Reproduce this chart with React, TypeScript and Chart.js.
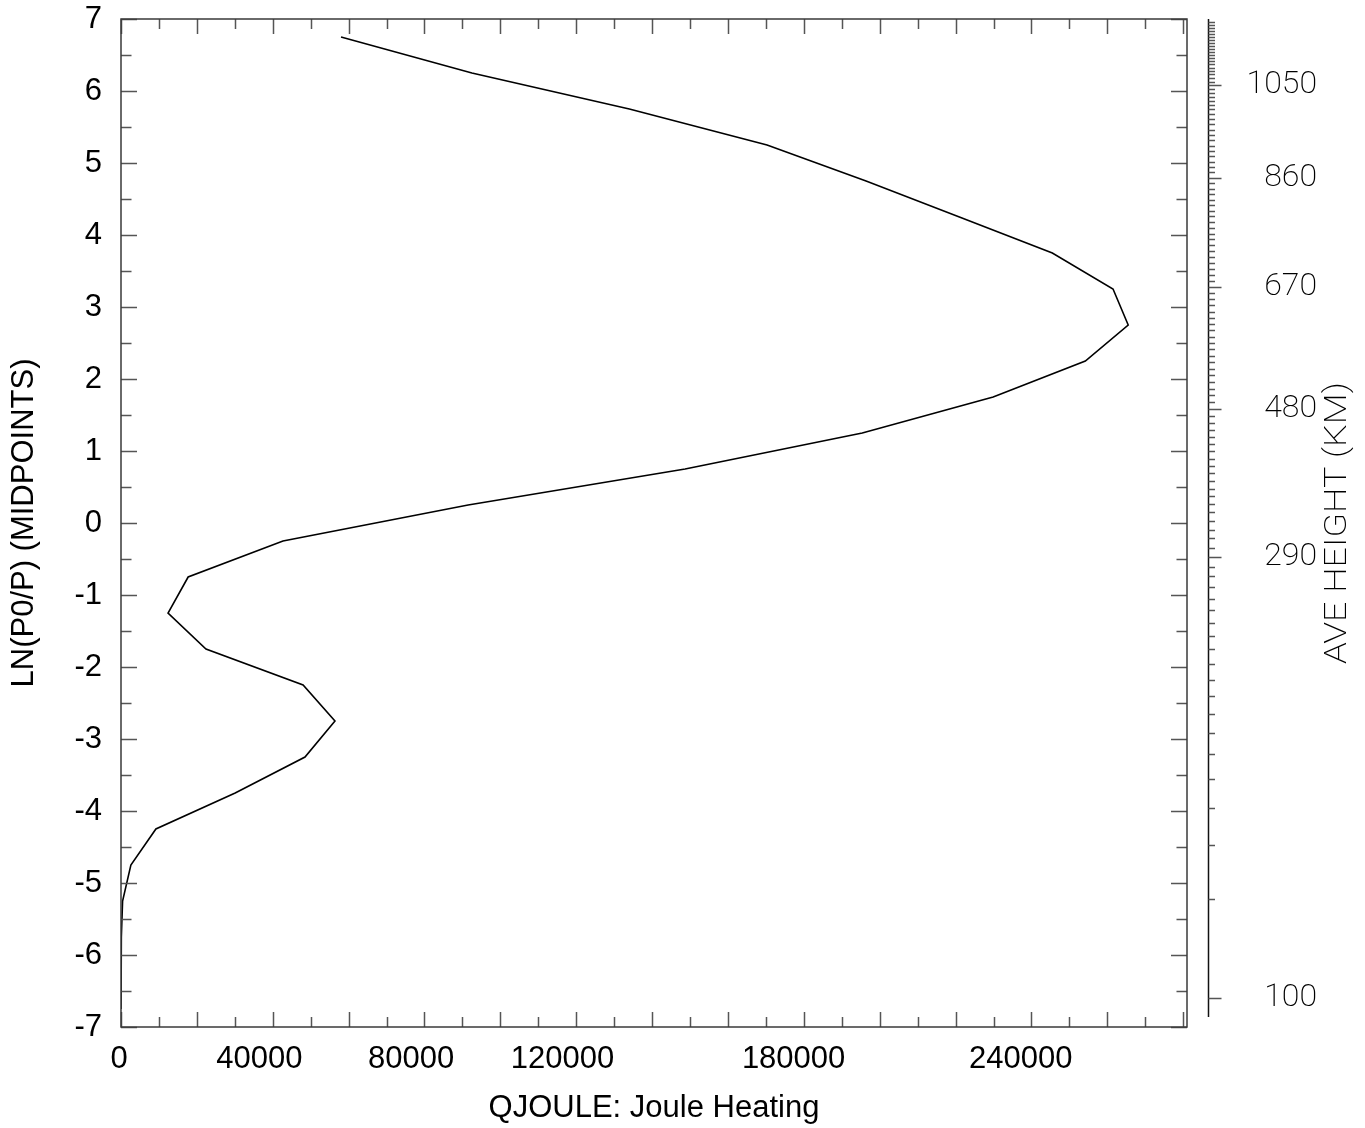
import React, { useEffect, useRef } from "react";
import { Chart, registerables } from "chart.js";

Chart.register(...registerables);

// ln(P0/P) midpoint levels (top to bottom)
const lnpLevels = [
  6.75, 6.25, 5.75, 5.25, 4.75, 4.25, 3.75, 3.25, 2.75, 2.25, 1.75, 1.25, 0.75, 0.25,
  -0.25, -0.75, -1.25, -1.75, -2.25, -2.75, -3.25, -3.75, -4.25, -4.75, -5.25, -5.75, -6.25, -6.75,
];

// QJOULE: Joule Heating at each level
const qjoule = [
  58000, 92500, 134000, 170300, 196400, 221000, 245500, 261500, 265500, 254200, 229900, 195400, 148700, 91500,
  42700, 17700, 12400, 22400, 48000, 56400, 48500, 30100, 9200, 2600, 420, 90, 20, 5,
];

// Average height (km) at each level
const aveHeightKm = [
  1200, 1082, 989, 921, 854.1, 788.9, 726.5, 666.4, 608.2, 551.7, 497.2, 445.1, 395.8, 348.2,
  307.0, 269.0, 237.5, 210.2, 186.4, 165.9, 148.7, 134.7, 123.6, 115.7, 109.7, 105.6, 102.2, 99.0,
];

const xTickLabels = ["0", "40000", "80000", "120000", "180000", "240000"];
const xTickLabelAt = [-500, 36500, 76500, 116400, 177300, 237200];
const xMin = 0;
const xMax = 281000;
const xMinorStep = 10000;

const yMin = -7;
const yMax = 7;
const yMinorStep = 0.5;

const heightLabels = [100, 290, 480, 670, 860, 1050];
const heightStepKm = 10;
const heightAxisBottomKm = 98.3;

const AXIS_COLOR = "#3a3a3a";
const TICK_COLOR = "#555555";
const SANS = '"Liberation Sans", Arial, Helvetica, sans-serif';
const THIN = 'Roboto, "DejaVu Sans", sans-serif';

// table sorted ascending by lnP
const hTable = lnpLevels
  .map((p, i) => ({ p, h: aveHeightKm[i] }))
  .sort((a, b) => a.p - b.p);

function lnpAtHeight(h: number): number {
  const t = hTable;
  let i = 0;
  if (h <= t[0].h) i = 0;
  else if (h >= t[t.length - 1].h) i = t.length - 2;
  else {
    while (i < t.length - 2 && t[i + 1].h < h) i++;
  }
  const a = t[i], b = t[i + 1];
  return a.p + ((h - a.h) / (b.h - a.h)) * (b.p - a.p);
}

function heightAtLnp(p: number): number {
  const t = hTable;
  let i = 0;
  if (p <= t[0].p) i = 0;
  else if (p >= t[t.length - 1].p) i = t.length - 2;
  else {
    while (i < t.length - 2 && t[i + 1].p < p) i++;
  }
  const a = t[i], b = t[i + 1];
  return a.h + ((p - a.p) / (b.p - a.p)) * (b.h - a.h);
}

const framePlugin = {
  id: "frame",
  afterDraw(chart: any) {
    const { ctx, chartArea: a, scales } = chart;
    const xs = scales.x;
    const ys = scales.y;
    const yh = scales.yH;
    ctx.save();
    // ticks
    ctx.strokeStyle = TICK_COLOR;
    ctx.lineWidth = 1.5;
    ctx.beginPath();
    for (let k = 0; xMin + k * xMinorStep <= xMax; k++) {
      const v = xMin + k * xMinorStep;
      const px = Math.round(xs.getPixelForValue(v)) + 0.5;
      const len = k % 2 === 0 ? 15 : 10;
      ctx.moveTo(px, a.bottom);
      ctx.lineTo(px, a.bottom - len);
      ctx.moveTo(px, a.top);
      ctx.lineTo(px, a.top + len);
    }
    for (let k = 0; yMin + k * yMinorStep <= yMax + 1e-9; k++) {
      const v = yMin + k * yMinorStep;
      const py = Math.round(ys.getPixelForValue(v)) + 0.5;
      const len = k % 2 === 0 ? 16 : 10.5;
      ctx.moveTo(a.left, py);
      ctx.lineTo(a.left + len, py);
      ctx.moveTo(a.right, py);
      ctx.lineTo(a.right - len, py);
    }
    ctx.stroke();

    // frame
    ctx.strokeStyle = AXIS_COLOR;
    ctx.lineWidth = 1.5;
    ctx.strokeRect(a.left, a.top, a.right - a.left, a.bottom - a.top);

    // height axis
    const axX = Math.round(a.right + 21) + 0.5;
    const topH = heightAtLnp(ys.max);
    ctx.strokeStyle = "#111111";
    ctx.lineWidth = 1.5;
    ctx.beginPath();
    ctx.moveTo(axX, ys.getPixelForValue(lnpAtHeight(heightAxisBottomKm)));
    ctx.lineTo(axX, ys.getPixelForValue(ys.max));
    ctx.stroke();
    ctx.strokeStyle = TICK_COLOR;
    ctx.lineWidth = 1.3;
    ctx.beginPath();
    const h0 = Math.ceil(heightAxisBottomKm / heightStepKm) * heightStepKm;
    for (let h = h0; h <= topH; h += heightStepKm) {
      const py = Math.round(ys.getPixelForValue(lnpAtHeight(h))) + 0.5;
      const len = heightLabels.includes(h) ? 13 : 6.5;
      ctx.moveTo(axX, py);
      ctx.lineTo(axX + len, py);
    }
    ctx.stroke();

    // right title
    ctx.fillStyle = "#000000";
    ctx.font = `200 31px ${THIN}`;
    const title = "AVE HEIGHT (KM)";
    const w = ctx.measureText(title).width;
    const cy = (a.top + a.bottom) / 2;
    ctx.translate(yh.right + 21, cy);
    ctx.rotate(-Math.PI / 2);
    ctx.scale(282 / w, 1);
    ctx.textAlign = "center";
    ctx.textBaseline = "middle";
    ctx.fillText(title, 0, 0);
    ctx.restore();
  },
};

export default function App() {
  const ref = useRef<HTMLCanvasElement | null>(null);
  useEffect(() => {
    if (!ref.current) return;
    const data = lnpLevels.map((p, i) => ({ x: qjoule[i], y: p }));
    const chart = new Chart(ref.current, {
      type: "line",
      data: {
        datasets: [
          {
            data,
            borderColor: "#000000",
            borderWidth: 1.6,
            pointRadius: 0,
            tension: 0,
            fill: false,
          },
        ],
      },
      options: {
        animation: false,
        responsive: false,
        devicePixelRatio: 1,
        layout: { padding: { left: 0, top: 19, right: 48, bottom: 0 } },
        plugins: { legend: { display: false }, tooltip: { enabled: false } },
        scales: {
          x: {
            type: "linear",
            position: "bottom",
            min: xMin,
            max: xMax,
            grid: { display: false },
            border: { display: false },
            afterBuildTicks: (s: any) => {
              s.ticks = xTickLabelAt.map((v) => ({ value: v }));
            },
            afterFit: (s: any) => {
              s.height = 101;
              s.paddingLeft = 0;
              s.paddingRight = 0;
            },
            ticks: {
              autoSkip: false,
              maxRotation: 0,
              padding: 6,
              color: "#000000",
              font: { family: SANS, size: 31 },
              callback: (_v: any, i: number) => xTickLabels[i],
            },
            title: {
              display: true,
              text: "QJOULE: Joule Heating",
              color: "#000000",
              font: { family: SANS, size: 31, lineHeight: 1.2 },
              padding: { top: 0, bottom: 1 },
            },
          },
          y: {
            type: "linear",
            position: "left",
            min: yMin,
            max: yMax,
            grid: { display: false },
            border: { display: false },
            afterFit: (s: any) => {
              s.width = 121;
              s.paddingTop = 0;
              s.paddingBottom = 0;
            },
            ticks: {
              stepSize: 1,
              autoSkip: false,
              padding: 11,
              color: "#000000",
              font: { family: SANS, size: 31 },
            },
            title: {
              display: true,
              text: "LN(P0/P) (MIDPOINTS)",
              color: "#000000",
              font: { family: SANS, size: 31, lineHeight: 1.2 },
              padding: { top: 6, bottom: 0 },
            },
          },
          yH: {
            type: "linear",
            position: "right",
            display: true,
            min: yMin,
            max: yMax,
            grid: { display: false },
            border: { display: false },
            afterBuildTicks: (s: any) => {
              s.ticks = heightLabels.map((h) => ({ value: lnpAtHeight(h) }));
            },
            afterFit: (s: any) => {
              s.width = 130;
              s.paddingTop = 0;
              s.paddingBottom = 0;
            },
            ticks: {
              autoSkip: false,
              crossAlign: "far",
              color: "#000000",
              font: { family: THIN, size: 32, weight: 200 as any },
              callback: (_v: any, i: number) => String(heightLabels[i]),
            },
          },
        },
      },
      plugins: [framePlugin],
    } as any);
    return () => chart.destroy();
  }, []);
  return (
    <div style={{ position: "fixed", left: 0, top: 0, width: 1365, height: 1128, background: "#fff" }}>
      <canvas ref={ref} width={1365} height={1128} style={{ display: "block", width: 1365, height: 1128 }} />
    </div>
  );
}
